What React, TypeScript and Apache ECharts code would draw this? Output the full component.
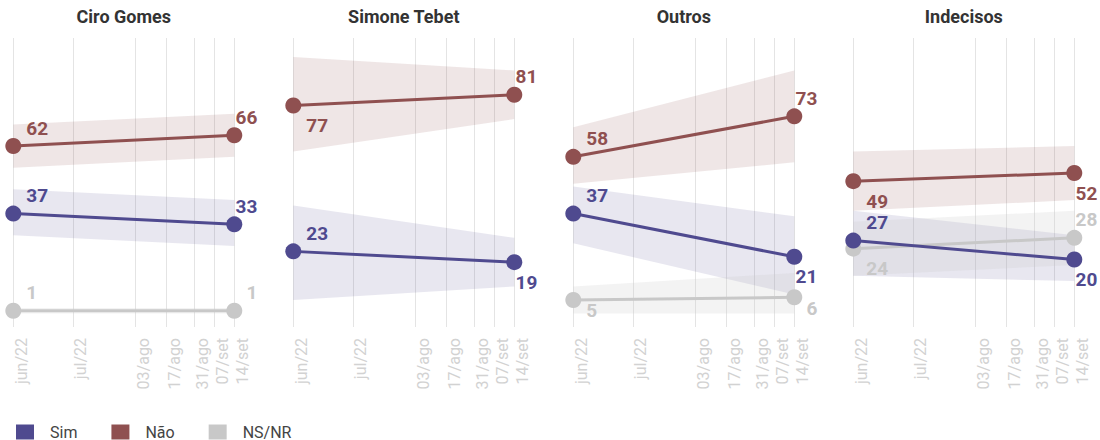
import React, { useEffect, useRef } from "react";
import * as echarts from "echarts";

const panelTitles = ["Ciro Gomes", "Simone Tebet", "Outros", "Indecisos"];
const tickLabels = ["jun/22", "jul/22", "03/ago", "17/ago", "31/ago", "07/set", "14/set"];
const tickPos = [0, 27.0, 55.1, 69.2, 81.9, 91.0, 100];
const pointTicks = [0, 6]; // jun/22 and 14/set

const simValues = [[37, 33], [23, 19], [37, 21], [27, 20]];
const naoValues = [[62, 66], [77, 81], [58, 73], [49, 52]];
const nsnrValues: (number[] | null)[] = [[1, 1], null, [5, 6], [24, 28]];

const simLow = [[29, 25], [5, 10], [26, 7], [14, 12]];
const simHigh = [[46, 42], [40, 28], [47, 36], [38, 29]];
const naoLow = [[54, 58], [60, 72], [48, 56], [38, 42]];
const naoHigh = [[70, 74], [95, 90], [69, 90], [60, 62]];
const nsnrLow: (number[] | null)[] = [[0, 0], null, [0, 0], [14, 18]];
const nsnrHigh: (number[] | null)[] = [[2, 2], null, [10, 15], [34, 38]];

const simSides = [["up", "up"], ["up", "down"], ["up", "down"], ["up", "down"]];
const naoSides = [["up", "up"], ["down", "up"], ["up", "up"], ["down", "down"]];
const nsnrSides = [["up", "up"], null, ["low", "low"], ["down", "up"]];

const C_SIM = "#4f4a8f";
const C_NAO = "#8f5050";
const C_NS = "#c8c8c8";
const B_SIM = "rgba(79,74,143,0.135)";
const B_NAO = "rgba(143,80,80,0.14)";
const B_NS = "rgba(200,200,200,0.22)";

const GRID_LEFT = 13.3;
const GRID_STEP = 280;
const GRID_W = 221;

function dyFor(side: string) {
  if (side === "up") return -18;
  if (side === "down") return 20;
  return 11;
}

function lineSeries(name: string, color: string, vals: number[], sides: string[], gi: number) {
  return {
    type: "line",
    name,
    xAxisIndex: gi,
    yAxisIndex: gi,
    symbol: "circle",
    symbolSize: 16,
    lineStyle: { width: 3, color },
    itemStyle: { color },
    z: 5,
    label: {
      show: true,
      color,
      fontFamily: "Roboto",
      fontWeight: "bold",
      fontSize: 19,
      formatter: (p: any) => String(p.value[1]),
    },
    data: vals.map((v, i) => ({
      value: [tickPos[pointTicks[i]], v],
      label: {
        position: "inside",
        align: i === 0 ? "left" : "right",
        verticalAlign: "middle",
        offset: [i === 0 ? 13 : 23, dyFor(sides[i])],
      },
    })),
  };
}

function bandSeries(key: string, color: string, low: number[], high: number[], gi: number) {
  const x0 = tickPos[pointTicks[0]];
  const x1 = tickPos[pointTicks[1]];
  return {
    type: "custom",
    name: key + "-band",
    xAxisIndex: gi,
    yAxisIndex: gi,
    silent: true,
    z: 1,
    encode: { x: [0, 3], y: [1, 2, 4, 5] },
    data: [[x0, low[0], high[0], x1, low[1], high[1]]],
    renderItem: (_params: any, api: any) => {
      const a = api.coord([api.value(0), api.value(1)]);
      const b = api.coord([api.value(0), api.value(2)]);
      const c = api.coord([api.value(3), api.value(5)]);
      const d = api.coord([api.value(3), api.value(4)]);
      return {
        type: "polygon",
        shape: { points: [a, b, c, d] },
        style: { fill: color },
      };
    },
  };
}

export default function App() {
  const ref = useRef<HTMLDivElement>(null);
  useEffect(() => {
    document.body.style.margin = "0";
    const chart = echarts.init(ref.current!, null, { renderer: "svg" });
    const grids: any[] = [];
    const xAxes: any[] = [];
    const yAxes: any[] = [];
    const titles: any[] = [];
    const series: any[] = [];
    panelTitles.forEach((t, gi) => {
      const left = GRID_LEFT + GRID_STEP * gi;
      grids.push({ left, width: GRID_W, top: 38, height: 289 });
      titles.push({
        text: t,
        left: left + GRID_W / 2,
        textAlign: "center",
        top: 7,
        padding: 0,
        textStyle: { fontFamily: "Roboto", fontWeight: "bold", fontSize: 18, color: "#333" },
      });
      xAxes.push({
        type: "value",
        gridIndex: gi,
        min: 0,
        max: 100,
        axisLine: { show: false },
        axisTick: { show: false, customValues: tickPos },
        splitLine: { show: true, lineStyle: { color: "#e4e4e4", width: 1 } },
        axisLabel: {
          customValues: tickPos,
          rotate: 90,
          verticalAlign: "top",
          margin: 11,
          color: "#d2d2d2",
          fontFamily: "Roboto",
          fontSize: 16,
          formatter: (v: number) => {
            const idx = tickPos.findIndex((p) => Math.abs(p - v) < 1e-6);
            return idx >= 0 ? tickLabels[idx] : "";
          },
        },
      });
      yAxes.push({ type: "value", gridIndex: gi, min: -5, max: 102, show: false, splitLine: { show: false } });

      series.push(bandSeries("nao", B_NAO, naoLow[gi], naoHigh[gi], gi));
      series.push(bandSeries("sim", B_SIM, simLow[gi], simHigh[gi], gi));
      const nl = nsnrLow[gi];
      const nh = nsnrHigh[gi];
      if (nl && nh) series.push(bandSeries("ns", B_NS, nl, nh, gi));
      const nv = nsnrValues[gi];
      const ns = nsnrSides[gi];
      if (nv && ns) series.push(lineSeries("NS/NR", C_NS, nv, ns, gi));
      series.push(lineSeries("Não", C_NAO, naoValues[gi], naoSides[gi], gi));
      series.push(lineSeries("Sim", C_SIM, simValues[gi], simSides[gi], gi));
    });

    chart.setOption({
      animation: false,
      backgroundColor: "#ffffff",
      title: titles,
      grid: grids,
      xAxis: xAxes,
      yAxis: yAxes,
      legend: {
        data: [
          { name: "Sim", icon: "rect" },
          { name: "Não", icon: "rect" },
          { name: "NS/NR", icon: "rect" },
        ],
        left: 16,
        top: 424,
        padding: 0,
        itemWidth: 18,
        itemHeight: 15,
        itemGap: 34,
        selectedMode: false,
        textStyle: { fontFamily: "Roboto", fontSize: 16, color: "#444", padding: [0, 0, 0, 11] },
      },
      series,
    });
    return () => chart.dispose();
  }, []);
  return <div ref={ref} style={{ width: 1100, height: 440 }} />;
}
